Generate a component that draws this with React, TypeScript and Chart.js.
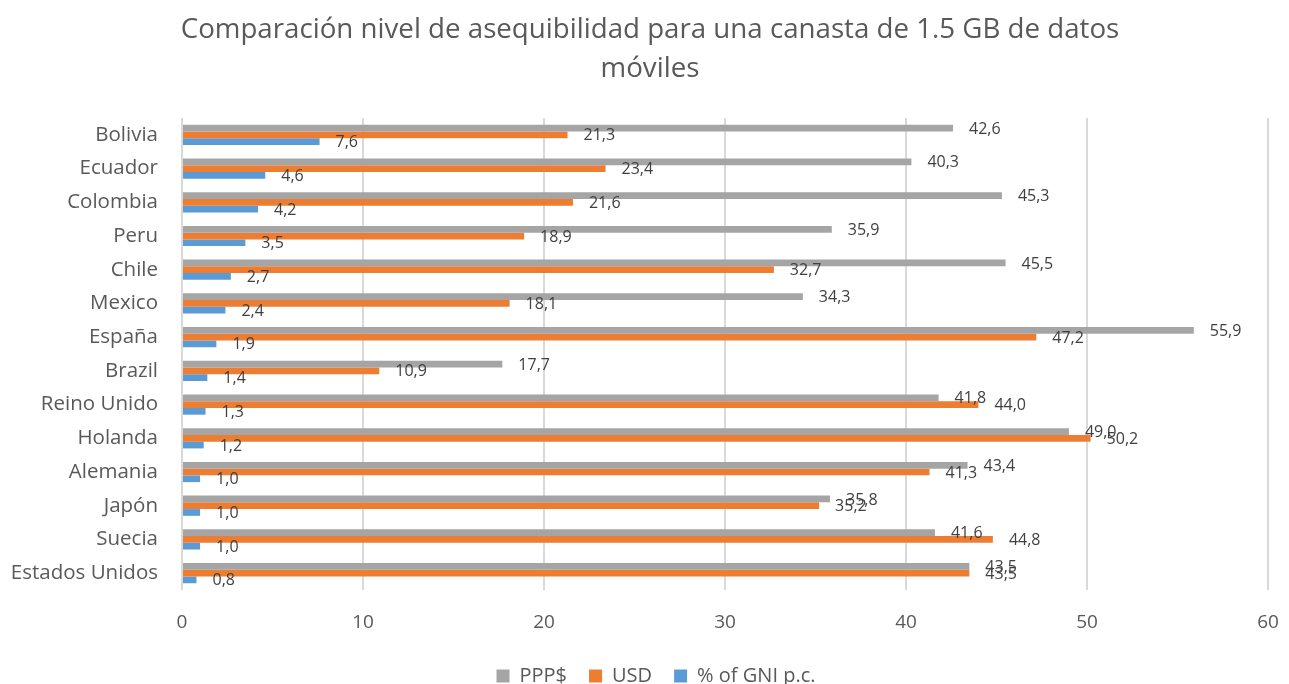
import React, { useEffect, useRef } from "react";
import { Chart, registerables } from "chart.js";

Chart.register(...registerables);

const countries = [
  "Bolivia",
  "Ecuador",
  "Colombia",
  "Peru",
  "Chile",
  "Mexico",
  "España",
  "Brazil",
  "Reino Unido",
  "Holanda",
  "Alemania",
  "Japón",
  "Suecia",
  "Estados Unidos",
];

const pppValues = [42.6, 40.3, 45.3, 35.9, 45.5, 34.3, 55.9, 17.7, 41.8, 49.0, 43.4, 35.8, 41.6, 43.5];
const usdValues = [21.3, 23.4, 21.6, 18.9, 32.7, 18.1, 47.2, 10.9, 44.0, 50.2, 41.3, 35.2, 44.8, 43.5];
const gniValues = [7.6, 4.6, 4.2, 3.5, 2.7, 2.4, 1.9, 1.4, 1.3, 1.2, 1.0, 1.0, 1.0, 0.8];

const seriesNames = ["PPP$", "USD", "% of GNI p.c."];
const seriesColors = ["#A5A5A5", "#ED7D31", "#5B9BD5"];

const titleLines = [
  "Comparación nivel de asequibilidad para una canasta de 1.5 GB de datos",
  "móviles",
];

const FONT = "'Open Sans', 'DejaVu Sans', sans-serif";

// Writes each bar's value (decimal comma) just past the end of the bar.
const valueLabels = {
  id: "valueLabels",
  afterDatasetsDraw(chart: any) {
    const { ctx } = chart;
    ctx.save();
    ctx.font = `16px ${FONT}`;
    ctx.fillStyle = "#404040";
    ctx.textAlign = "left";
    ctx.textBaseline = "middle";
    chart.data.datasets.forEach((ds: any, di: number) => {
      const meta = chart.getDatasetMeta(di);
      meta.data.forEach((bar: any, i: number) => {
        const v = ds.data[i] as number;
        const text = v.toFixed(1).replace(".", ",");
        ctx.fillText(text, bar.x + 16, bar.y + 1);
      });
    });
    ctx.restore();
  },
};

// Lets the long country names use the space left of the category axis box,
// and nudges the legend row slightly to the right.
const layoutTweaks = {
  id: "layoutTweaks",
  afterLayout(chart: any) {
    const y = chart.scales.y;
    if (y) y.left = 0;
    const legend = chart.legend;
    if (legend) {
      legend.left += 6;
      legend.right += 6;
    }
  },
};

export default function App() {
  const canvasRef = useRef<HTMLCanvasElement | null>(null);

  useEffect(() => {
    document.body.style.margin = "0";
    const canvas = canvasRef.current;
    if (!canvas) return;

    const chart = new Chart(canvas, {
      type: "bar",
      data: {
        labels: countries,
        datasets: [pppValues, usdValues, gniValues].map((values, k) => ({
          label: seriesNames[k],
          data: values,
          backgroundColor: seriesColors[k],
          borderWidth: 0,
          categoryPercentage: 0.6,
          barPercentage: 1.0,
        })),
      },
      options: {
        indexAxis: "y",
        responsive: false,
        animation: false,
        devicePixelRatio: 1,
        layout: {
          padding: { left: 32, right: 21, top: 0, bottom: -12 },
        },
        scales: {
          x: {
            min: 0,
            max: 60,
            ticks: {
              stepSize: 10,
              color: "#595959",
              font: { family: FONT, size: 19 },
              padding: 21,
            },
            grid: {
              color: "#D9D9D9",
              lineWidth: 2,
              drawTicks: false,
            },
            border: { display: false },
            afterFit(scale: any) {
              scale.height = 54;
              scale.paddingLeft = 0;
              scale.paddingRight = 0;
            },
          },
          y: {
            ticks: {
              color: "#595959",
              font: { family: FONT, size: 20.5 },
              padding: 24,
              autoSkip: false,
            },
            grid: { display: false, drawTicks: false },
            border: { display: false },
            afterFit(scale: any) {
              scale.width = 150;
              scale.paddingTop = 0;
              scale.paddingBottom = 0;
            },
          },
        },
        plugins: {
          title: {
            display: true,
            text: titleLines,
            color: "#595959",
            font: { family: FONT, size: 27.7, weight: "normal", lineHeight: 1.41 },
            padding: { top: 11, bottom: 28.9 },
          },
          legend: {
            position: "bottom",
            labels: {
              boxWidth: 13,
              boxHeight: 13,
              padding: 22,
              color: "#595959",
              font: { family: FONT, size: 20 },
            },
          },
          tooltip: { enabled: false },
        },
      },
      plugins: [valueLabels, layoutTweaks],
    });

    return () => chart.destroy();
  }, []);

  return (
    <div style={{ width: 1289, height: 684, background: "#fff" }}>
      <canvas ref={canvasRef} width={1289} height={684} style={{ display: "block" }} />
    </div>
  );
}
